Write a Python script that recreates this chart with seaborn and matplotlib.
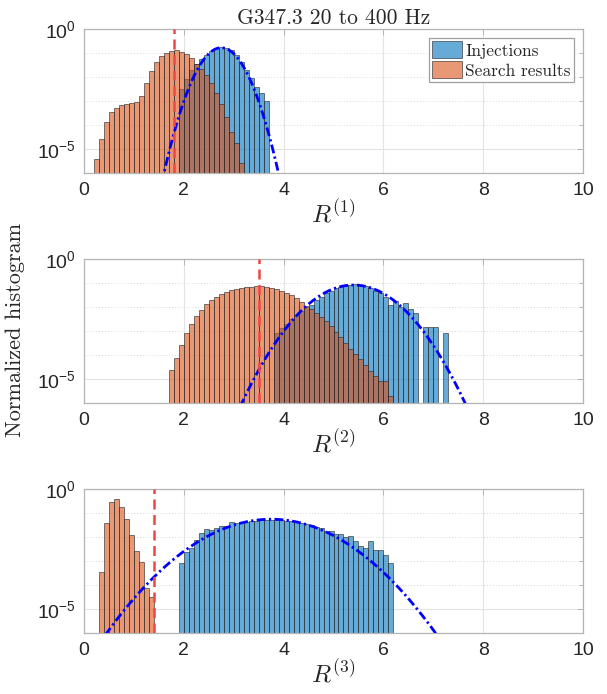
import numpy as np
import pandas as pd
import matplotlib
matplotlib.use('Agg')
import matplotlib.pyplot as plt
import seaborn as sns
from matplotlib.ticker import FixedLocator, NullFormatter, LogFormatterSciNotation

# ---- data (log10 of normalized bin probability, bin width 0.1) ----
bin_width = 0.1

inj1_start = 1.9
inj1_log10 = [-2.50, -2.05, -1.70, -1.45, -1.25, -1.07, -0.89, -0.79, -0.75, -0.77,
              -0.86, -1.05, -1.35, -1.70, -2.04, -2.39, -2.64, -3.00]
srch1_start = 0.2
srch1_log10 = [-5.42, -4.57, -3.88, -3.46, -3.28, -3.17, -3.11, -3.06, -3.03, -2.77,
               -2.25, -1.75, -1.38, -1.13, -0.97, -0.89, -0.88, -0.95, -1.03, -1.21,
               -1.45, -1.67, -1.90, -2.25, -2.67, -3.11, -3.67, -4.27, -4.75, -5.56]
thresh1 = 1.8
fit1 = (2.75, 0.234)

inj2_start = 3.8
inj2_log10 = [-3.08, -2.87, -2.70, -2.50, -2.32, -2.15, -2.00, -1.90, -1.70, -1.56,
              -1.42, -1.31, -1.21, -1.14, -1.09, -1.05, -1.02, -1.05, -1.11, -1.21,
              -1.31, -1.42, -1.58, -1.90, -1.75, -1.98, -1.80, -2.05, -2.25, None,
              -2.81, -2.81, -2.81, None, -3.08]
srch2_start = 1.7
srch2_log10 = [-4.61, -4.13, -3.57, -3.08, -2.70, -2.35, -2.10, -1.88, -1.70, -1.56,
               -1.45, -1.35, -1.28, -1.22, -1.18, -1.15, -1.14, -1.11, -1.11, -1.14,
               -1.18, -1.24, -1.31, -1.39, -1.50, -1.63, -1.78, -1.95, -2.08, -2.22,
               -2.39, -2.57, -2.78, -3.01, -3.25, -3.50, -3.75, -3.96, -4.17, -4.40,
               -4.64, -4.86, -5.07, -5.07, -5.68]
thresh2 = 3.5
fit2 = (5.4, 0.47)

inj3_start = 1.9
inj3_log10 = [-3.08, -2.60, -2.46, -2.11, -1.83, -1.65, -1.70, -1.60, -1.53, -1.51,
              -1.38, -1.42, -1.38, -1.36, -1.33, -1.30, -1.28, -1.27, -1.27, -1.29,
              -1.28, -1.32, -1.31, -1.38, -1.39, -1.46, -1.48, -1.58, -1.62, -1.75,
              -1.73, -1.85, -1.88, -2.00, -1.95, -2.15, -2.36, -2.43, -2.15, -2.55,
              -2.55, -2.74, -3.08]
srch3_start = 0.3
srch3_log10 = [-3.46, -1.42, -0.52, -0.40, -0.72, -1.24, -1.90, -2.56, -3.01, -4.13, -4.50]
thresh3 = 1.4
fit3 = (3.75, 0.705)

panels = [
    (inj1_start, inj1_log10, srch1_start, srch1_log10, thresh1, fit1, r'$R^{(1)}$'),
    (inj2_start, inj2_log10, srch2_start, srch2_log10, thresh2, fit2, r'$R^{(2)}$'),
    (inj3_start, inj3_log10, srch3_start, srch3_log10, thresh3, fit3, r'$R^{(3)}$'),
]

# ---- style ----
sns.set_style('white')
plt.rcParams['font.family'] = ['Liberation Sans', 'DejaVu Sans']
plt.rcParams['mathtext.fontset'] = 'cm'
serif = 'cmr10'

blue = (0.0, 0.447, 0.741)
orange = (0.85, 0.325, 0.098)
edge = (0.15, 0.15, 0.15, 0.6)


def hist_layer(ax, start, logvals, color, label):
    n = len(logvals)
    edges = start + bin_width * np.arange(n + 1)
    df = pd.DataFrame({
        'r': edges[:-1] + bin_width / 2,
        'w': [0.0 if v is None else 10.0 ** v for v in logvals],
    })
    sns.histplot(data=df, x='r', weights='w', bins=list(edges), stat='count', ax=ax,
                 color=color, alpha=0.6, edgecolor=edge, linewidth=0.7, label=label)


fig = plt.figure(figsize=(6.07, 6.94), dpi=100)
W, H = 607.0, 694.0
ax_tops = [29.3, 259.3, 489.3]
ax_h = 144.0

for i, (istart, ilog, sstart, slog, thr, fit, xl) in enumerate(panels):
    ax = fig.add_axes([84 / W, 1 - (ax_tops[i] + ax_h) / H, 499 / W, ax_h / H])
    hist_layer(ax, istart, ilog, blue, 'Injections')
    hist_layer(ax, sstart, slog, orange, 'Search results')

    mu, sig = fit
    xs = np.linspace(mu - 6 * sig, mu + 6 * sig, 500)
    ys = bin_width / (sig * np.sqrt(2 * np.pi)) * np.exp(-(xs - mu) ** 2 / (2 * sig ** 2))
    sns.lineplot(x=xs, y=ys, ax=ax, color='#0000ff', lw=2.0,
                 linestyle=(0, (3.2, 1.2, 0.8, 1.2)), zorder=5)
    ax.axvline(thr, color='#f04545', lw=1.8, linestyle=(0, (4, 2.2)), zorder=6)

    ax.set_yscale('log')
    ax.set_ylim(1e-6, 1)
    ax.set_xlim(0, 10)
    ax.set_xticks([0, 2, 4, 6, 8, 10])
    ax.yaxis.set_major_locator(FixedLocator([1e-5, 1e0]))
    ax.yaxis.set_major_formatter(LogFormatterSciNotation())
    ax.yaxis.set_minor_locator(FixedLocator([1e-6, 1e-4, 1e-3, 1e-2, 1e-1]))
    ax.yaxis.set_minor_formatter(NullFormatter())

    ax.grid(True, which='major', color='#e3e3e3', lw=0.8, ls='-')
    ax.grid(True, which='minor', axis='y', color='#d8d8d8', lw=0.7, ls=(0, (1, 2)))
    ax.set_axisbelow(True)
    for s in ax.spines.values():
        s.set_color('#b4b4b4')
        s.set_linewidth(0.9)
    ax.tick_params(which='both', direction='in', top=True, right=True,
                   length=4, width=0.7, color='#b4b4b4', labelsize=14,
                   labelcolor='#262626', pad=6)
    ax.tick_params(which='minor', length=3)

    ax.set_ylabel('')
    ax.set_xlabel(xl, fontsize=18, color='#262626', labelpad=0)

    if i == 0:
        ax.set_title('G347.3 20 to 400 Hz', fontfamily=serif, fontsize=15.5, pad=4)
        leg = ax.legend(loc='upper right', prop={'family': serif, 'size': 12.5},
                        fancybox=False, framealpha=1, edgecolor='#a0a0a0',
                        borderpad=0.2, handlelength=1.7, handleheight=1.1,
                        handletextpad=0.2, borderaxespad=0.5, labelspacing=0.15)
        leg.get_frame().set_linewidth(0.9)
    elif ax.get_legend() is not None:
        ax.get_legend().remove()

fig.text(15 / W, 1 - 330 / H, 'Normalized histogram', rotation=90, ha='center',
         va='center', fontfamily=serif, fontsize=16, color='#262626')

fig.savefig('out.png', dpi=100)
